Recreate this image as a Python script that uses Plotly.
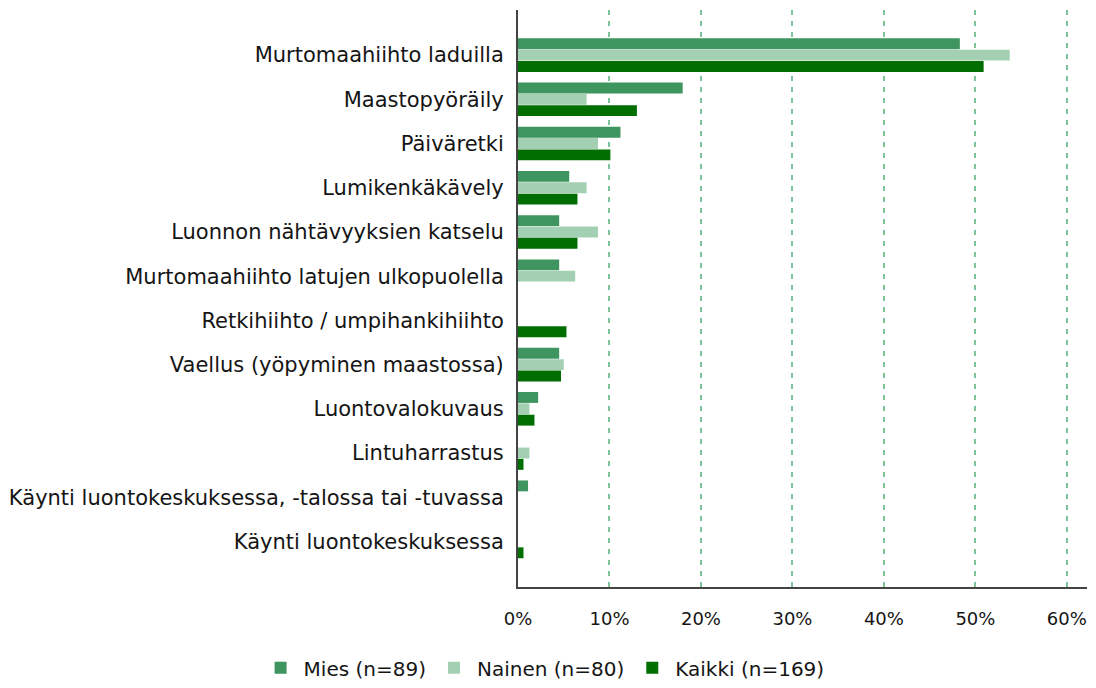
import plotly.graph_objects as go

categories = [
    "Murtomaahiihto laduilla",
    "Maastopyöräily",
    "Päiväretki",
    "Lumikenkäkävely",
    "Luonnon nähtävyyksien katselu",
    "Murtomaahiihto latujen ulkopuolella",
    "Retkihiihto / umpihankihiihto",
    "Vaellus (yöpyminen maastossa)",
    "Luontovalokuvaus",
    "Lintuharrastus",
    "Käynti luontokeskuksessa, -talossa tai -tuvassa",
    "Käynti luontokeskuksessa",
]
mies = [48.3, 18.0, 11.2, 5.6, 4.5, 4.5, 0, 4.5, 2.2, 0, 1.1, 0]
nainen = [53.75, 7.5, 8.75, 7.5, 8.75, 6.25, 0, 5.0, 1.25, 1.25, 0, 0]
kaikki = [50.9, 13.0, 10.1, 6.5, 6.5, 0, 5.3, 4.7, 1.8, 0.6, 0, 0.6]
series_names = ["Mies (n=89)", "Nainen (n=80)", "Kaikki (n=169)"]
colors = ["#3f955f", "#a3cfb2", "#006e00"]
x_ticks = [0, 10, 20, 30, 40, 50, 60]
x_tick_labels = ["0%", "10%", "20%", "30%", "40%", "50%", "60%"]

fig = go.Figure()
for name, vals, col in zip(series_names, [mies, nainen, kaikki], colors):
    fig.add_trace(go.Bar(
        y=categories, x=vals, name=name, orientation="h",
        marker=dict(color=col, line=dict(width=0)),
    ))

font_family = "DejaVu Sans"
fig.update_layout(
    width=1096, height=688,
    margin=dict(l=518, r=9, t=10, b=101, autoexpand=False),
    paper_bgcolor="white", plot_bgcolor="white",
    barmode="group", bargap=0.23, bargroupgap=0.04,
    font=dict(family=font_family, size=20, color="#151515"),
    showlegend=True,
    legend=dict(
        orientation="h", x=0.045, xanchor="center", y=-0.14, yanchor="middle",
        font=dict(family=font_family, size=20, color="#151515"),
        traceorder="normal", itemwidth=36,
    ),
)
fig.update_xaxes(
    range=[0, 62.2], tickvals=x_ticks, ticktext=x_tick_labels,
    showgrid=True, gridcolor="#7cc49a", griddash="5px,6px", gridwidth=1.5,
    zeroline=False, showline=True, linecolor="#444444", linewidth=2,
    ticks="", ticklabelstandoff=14, automargin=False,
    tickfont=dict(family=font_family, size=18, color="#151515"),
)
fig.update_yaxes(
    type="category", categoryorder="array", categoryarray=categories,
    range=[12.03, -1.02],
    showgrid=False, zeroline=False, showline=True, linecolor="#444444", linewidth=2,
    ticks="", ticklabelstandoff=8, automargin=False,
    tickfont=dict(family=font_family, size=21, color="#151515"),
)

fig.write_html(
    "out.html",
    config={"displayModeBar": False},
    post_script="document.body.style.margin='0';",
)
